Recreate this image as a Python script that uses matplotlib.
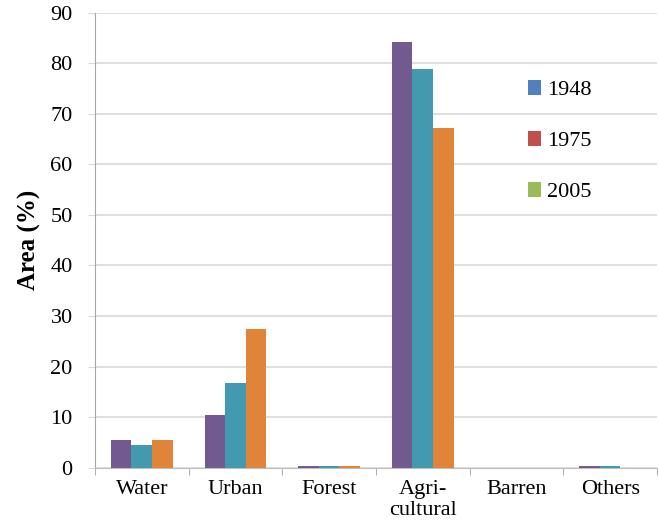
import matplotlib
matplotlib.use('Agg')
import matplotlib.pyplot as plt
import matplotlib.patches as mpatches
import numpy as np

plt.rcParams['font.family'] = ['Liberation Serif', 'DejaVu Serif']

# Land-use share per class (% of area) for each survey year
categories = ['Water', 'Urban', 'Forest', 'Agri-\ncultural', 'Barren', 'Others']
years = ['1948', '1975', '2005']
area_1948 = [5.5, 10.4, 0.3, 84.2, 0.0, 0.3]
area_1975 = [4.4, 16.7, 0.3, 78.9, 0.0, 0.3]
area_2005 = [5.5, 27.4, 0.3, 67.2, 0.0, 0.0]

bar_colors = ['#725A8E', '#4299B0', '#DF8439']
legend_colors = ['#4F81BD', '#C0504D', '#9BBB59']

fig = plt.figure(figsize=(6.59, 5.29), dpi=100)
ax = fig.add_axes([0.144, 0.116, 0.853, 0.86])

x = np.arange(len(categories))
w = 0.22
for k, vals in enumerate([area_1948, area_1975, area_2005]):
    ax.bar(x + (k - 1) * w, vals, width=w, color=bar_colors[k],
           edgecolor='none', zorder=3)

ax.set_xlim(-0.5, len(categories) - 0.5)
ax.set_ylim(0, 90)
ax.set_yticks(np.arange(0, 91, 10))
ax.yaxis.grid(True, color='#d9d9d9', lw=1.2, zorder=0)
ax.set_axisbelow(True)

ax.set_xticks(x)
ax.set_xticklabels(categories, fontsize=16, linespacing=1.15, va='top')
ax.set_xticks(np.arange(-0.5, len(categories)), minor=True)
ax.tick_params(axis='x', which='major', length=0, pad=9)
ax.tick_params(axis='x', which='minor', length=5, color='#a0a0a0', direction='out')
ax.tick_params(axis='y', length=5, color='#d9d9d9', labelsize=16, pad=11)

ax.set_ylabel('Area (%)', fontsize=18, fontweight='bold', labelpad=7)

for s in ['top', 'right']:
    ax.spines[s].set_visible(False)
ax.spines['left'].set_color('#a6a6a6')
ax.spines['bottom'].set_color('#bfbfbf')

handles = [mpatches.Patch(facecolor=c, edgecolor='none', label=y)
           for c, y in zip(legend_colors, years)]
ax.legend(handles=handles, loc='upper left', bbox_to_anchor=(0.735, 0.895),
          frameon=False, fontsize=16, labelspacing=1.4,
          handlelength=0.6, handleheight=0.6, handletextpad=0.25)

fig.savefig('out.png', dpi=100)
